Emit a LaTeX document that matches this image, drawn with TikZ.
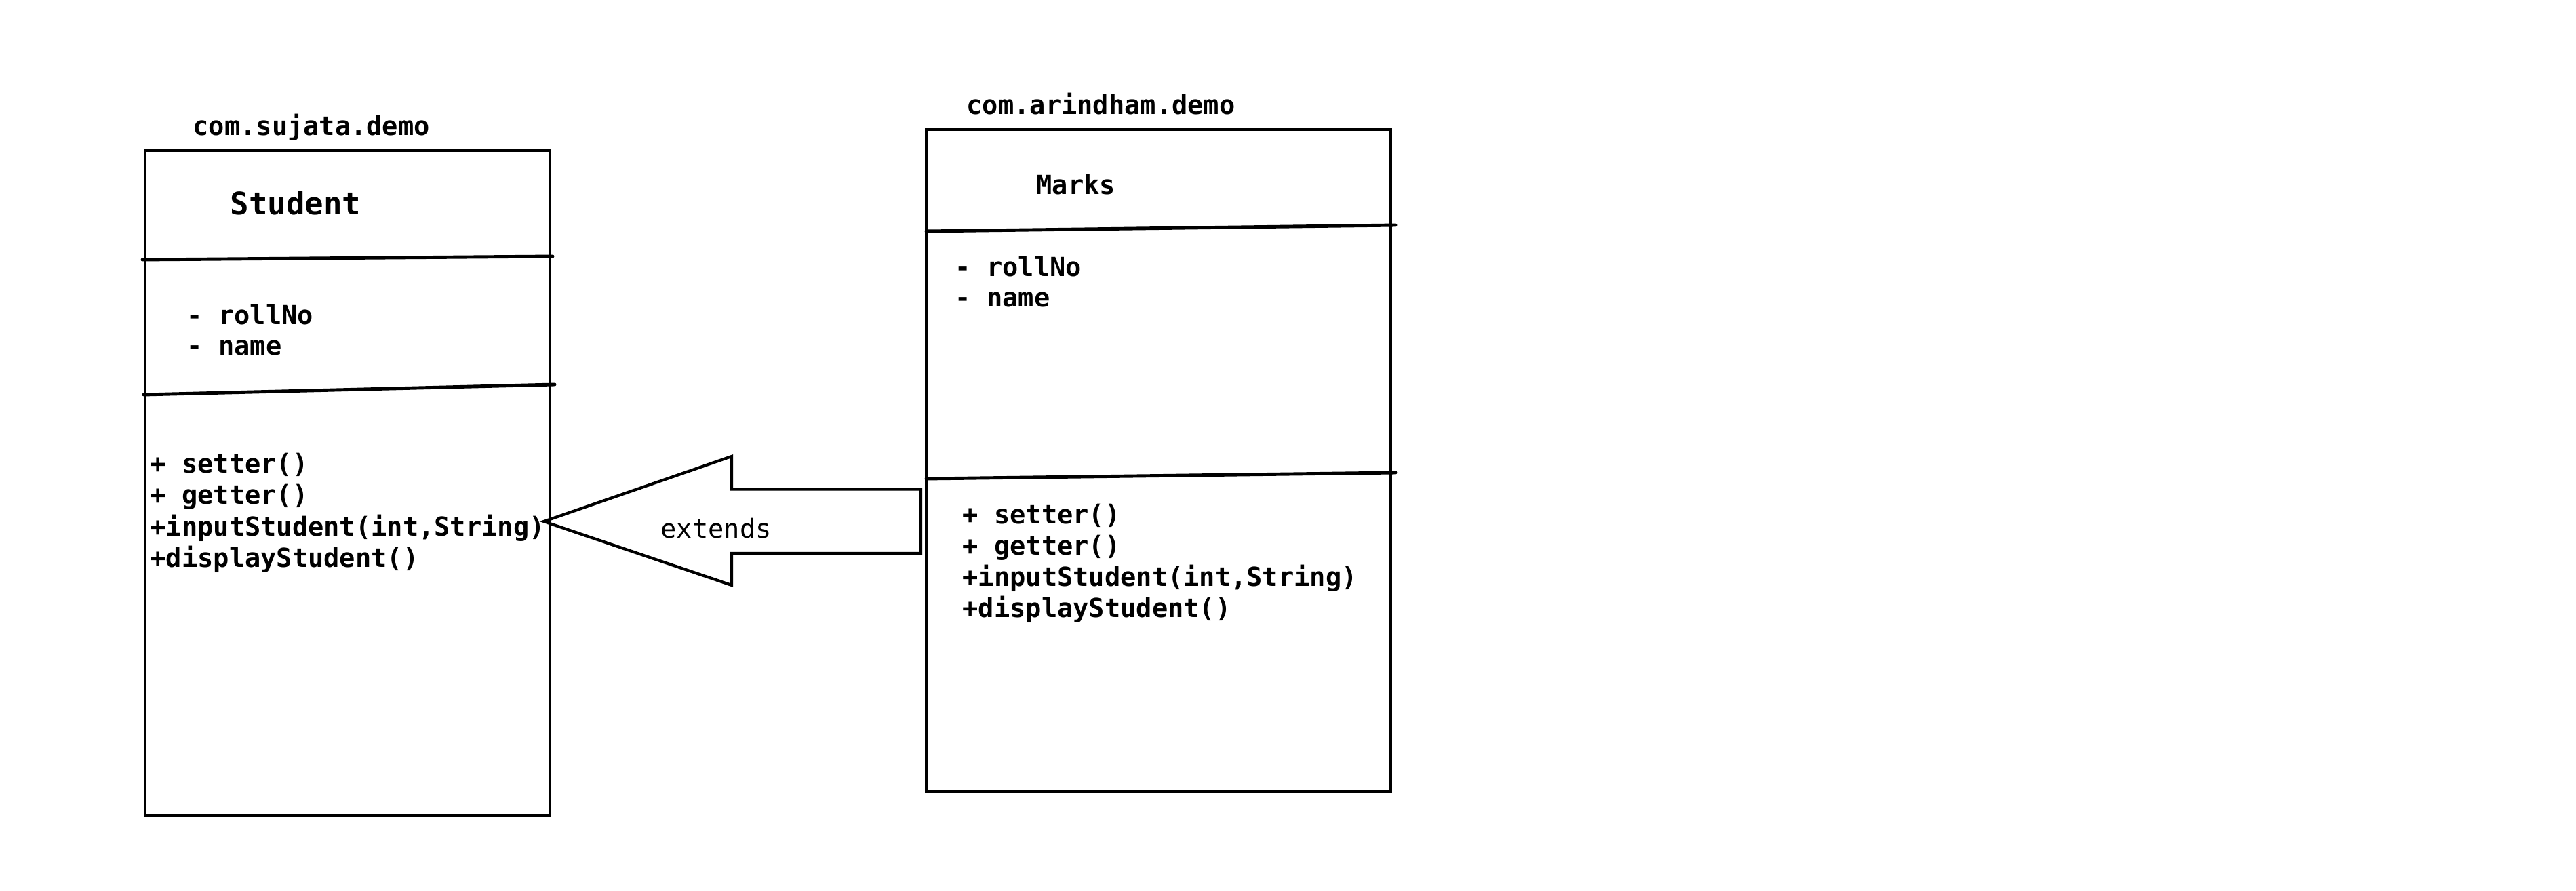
\documentclass[tikz,border=0pt]{standalone}
\usepackage{fontspec}
\setmonofont{DejaVu Sans Mono}
\tikzset{classbox/.style={draw,line width=1.4pt,inner sep=0pt},
         divider/.style={line width=1.4pt,line cap=round},
         member/.style={anchor=base west,inner sep=0pt,font=\ttfamily\bfseries\fontsize{11}{13}\selectfont},
         classname/.style={member,font=\ttfamily\bfseries\fontsize{13}{15}\selectfont},
         extarrow/.style={line width=1.2pt,line join=miter},
        }
\begin{document}
\begin{tikzpicture}
        \useasboundingbox(0,0)rectangle(37.99,-13.14);

        % packages
        \node[member](psujata)at(2.84,-2.00){com.sujata.demo};
        \node[member](parind)at(14.25,-1.69){com.arindham.demo};

        % class Student
        \node[classbox,minimum width=5.97cm,minimum height=9.81cm](sbox)at(5.125,-7.125){};
        \node[classname](sname)at(3.39,-3.17){Student};
        \draw[divider](2.10,-3.83)--(8.15,-3.78);
        \node[member](sattr1)at(2.75,-4.78){- rollNo};
        \node[member](sattr2)at(2.75,-5.24){- name};
        \draw[divider](2.12,-5.82)--(8.18,-5.67);
        \node[member](sop1)at(2.21,-6.97){+ setter()};
        \node[member](sop2)at(2.21,-7.43){+ getter()};
        \node[member](sop3)at(2.21,-7.90){+inputStudent(int,String)};
        \node[member](sop4)at(2.21,-8.36){+displayStudent()};

        % class Marks
        \node[classbox,minimum width=6.85cm,minimum height=9.76cm](mbox)at(17.085,-6.79){};
        \node[classname,font=\ttfamily\bfseries\fontsize{11}{13}\selectfont](mname)at(15.28,-2.87){Marks};
        \draw[divider](13.66,-3.41)--(20.58,-3.32);
        \node[member](mattr1)at(14.08,-4.07){- rollNo};
        \node[member](mattr2)at(14.08,-4.53){- name};
        \draw[divider](13.66,-7.06)--(20.58,-6.97);
        \node[member](mop1)at(14.19,-7.72){+ setter()};
        \node[member](mop2)at(14.19,-8.18){+ getter()};
        \node[member](mop3)at(14.19,-8.64){+inputStudent(int,String)};
        \node[member](mop4)at(14.19,-9.10){+displayStudent()};

        % extends arrow
        \coordinate(tip)at(8.02,-7.69);
        \draw[extarrow](tip)--++(2.77,0.96)--++(0,-0.485)--++(2.79,0)--++(0,-0.945)
            --++(-2.79,0)--++(0,-0.47)--cycle;
        \node[anchor=base west,inner sep=0pt,font=\ttfamily\fontsize{11}{13}\selectfont](ext)at(9.74,-7.93){extends};
    \end{tikzpicture}
\end{document}
